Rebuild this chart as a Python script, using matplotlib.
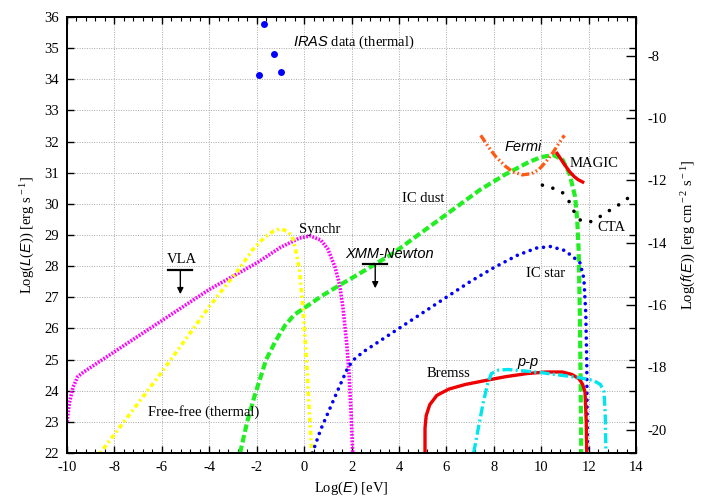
import matplotlib
matplotlib.use("Agg")
import matplotlib.pyplot as plt
from matplotlib.ticker import MultipleLocator

plt.rcParams['font.family'] = 'Liberation Serif'
plt.rcParams['font.size'] = 10.5
plt.rcParams['axes.unicode_minus'] = False
plt.rcParams['mathtext.fontset'] = 'custom'
plt.rcParams['mathtext.rm'] = 'Liberation Serif'
plt.rcParams['mathtext.it'] = 'Liberation Sans:italic'

# --- data (log E [eV], log L [erg/s]) ---
synchr_x = [-10.0, -9.9, -9.75, -9.55, -9.3, -8.0, -6.0, -4.0, -2.0, -1.0, -0.2, 0.25,
            0.7, 1.0, 1.3, 1.5, 1.65, 1.8, 1.9, 2.0, 2.05]
synchr_y = [23.0, 23.6, 24.1, 24.45, 24.6, 25.25, 26.25, 27.25, 28.1, 28.6, 28.9, 28.97,
            28.84, 28.55, 27.98, 27.4, 26.6, 25.5, 24.5, 23.0, 22.0]

freefree_x = [-8.6, -6.0, -4.0, -2.7, -2.2, -1.7, -1.3, -1.0, -0.7, -0.5, -0.35, -0.2,
              -0.05, 0.1, 0.2, 0.32]
freefree_y = [22.0, 24.6, 26.7, 27.95, 28.5, 28.9, 29.12, 29.2, 29.12, 28.95, 28.5, 27.9,
              26.7, 25.0, 23.6, 22.0]

icdust_x = [-2.7, -2.4, -2.1, -1.6, -1.2, -0.8, -0.4, 0.0, 0.7, 1.5, 2.6, 3.75, 4.9, 6.0,
            7.4, 8.5, 9.5, 10.0, 10.5, 10.9, 11.2, 11.43, 11.52, 11.58, 11.63, 11.66, 11.69]
icdust_y = [22.0, 23.0, 23.8, 25.0, 25.6, 26.1, 26.45, 26.65, 27.02, 27.39, 27.88, 28.41,
            29.05, 29.66, 30.44, 30.95, 31.35, 31.5, 31.57, 31.42, 30.95, 30.23, 29.48,
            28.5, 26.5, 24.5, 22.0]

icstar_x = [0.35, 0.7, 1.1, 1.5, 1.85, 2.1, 2.5, 3.0, 4.0, 5.0, 6.0, 7.0, 8.0, 9.0, 9.8,
            10.4, 11.0, 11.5, 11.64, 11.8, 11.88, 11.92, 11.95]
icstar_y = [22.0, 22.75, 23.45, 24.15, 24.75, 25.0, 25.25, 25.5, 26.0, 26.5, 27.0, 27.5,
            27.95, 28.35, 28.58, 28.63, 28.5, 28.2, 28.1, 27.6, 26.5, 25.0, 22.0]

bremss_x = [5.1, 5.1, 5.15, 5.3, 5.6, 6.1, 6.8, 7.6, 8.5, 9.4, 10.2, 10.9, 11.3, 11.6,
            11.75, 11.85, 11.9, 11.92]
bremss_y = [22.0, 22.8, 23.2, 23.55, 23.85, 24.05, 24.2, 24.32, 24.45, 24.55, 24.6, 24.6,
            24.52, 24.38, 24.2, 23.95, 23.0, 22.0]

pp_x = [7.15, 7.35, 7.55, 7.75, 7.9, 8.2, 8.6, 9.2, 10.0, 10.8, 11.6, 12.2, 12.5, 12.65,
        12.7, 12.73]
pp_y = [22.0, 22.8, 23.6, 24.25, 24.55, 24.66, 24.68, 24.64, 24.58, 24.5, 24.42, 24.33,
        24.2, 23.95, 23.3, 22.0]

fermi_x = [7.45, 7.8, 8.1, 8.5, 8.8, 9.2, 9.6, 9.9, 10.2, 10.5, 10.75, 10.98]
fermi_y = [32.2, 31.8, 31.5, 31.2, 31.03, 30.93, 30.97, 31.1, 31.35, 31.65, 31.95, 32.2]

magic_x = [10.67, 10.95, 11.2, 11.4, 11.55, 11.75]
magic_y = [31.62, 31.3, 31.03, 30.87, 30.78, 30.7]

cta_x = [10.05, 10.5, 10.9, 11.2, 11.45, 11.65, 11.85, 12.1, 12.4, 12.8, 13.2, 13.6, 14.0]
cta_y = [30.6, 30.5, 30.36, 30.05, 29.65, 29.48, 29.42, 29.43, 29.55, 29.75, 29.93, 30.15, 30.38]

iras_x = [-1.68, -1.28, -0.97, -1.89]
iras_y = [35.77, 34.82, 34.23, 34.14]

# upper limits: VLA, XMM-Newton
ul_x = [-5.22, 3.0]
ul_y = [27.88, 28.07]

fig = plt.figure(figsize=(7.12, 4.98), dpi=100)
ax = fig.add_axes([0.0941, 0.0904, 0.7992, 0.8755])

ax.plot(synchr_x, synchr_y, color='#ff00ff', lw=2.6, ls=(0, (0.5, 0.4)))
ax.plot(freefree_x, freefree_y, color='#ffff00', lw=2.6, ls=(0, (0.6, 0.9, 1.2, 0.9)))
ax.plot(icdust_x, icdust_y, color='#22ee22', lw=3.0, ls=(0, (1.8, 0.8)))
ax.plot(icstar_x, icstar_y, color='#0000ff', lw=2.6, ls=(0, (0.01, 1.9)),
        dash_capstyle='round')
ax.plot(bremss_x, bremss_y, color='#ee0000', lw=2.4, solid_capstyle='butt')
ax.plot(pp_x, pp_y, color='#00e5ee', lw=2.4, ls=(0, (3.0, 1.0, 0.6, 1.0)))
ax.plot(fermi_x, fermi_y, color='#ff5a14', lw=2.4, ls=(0, (2.4, 0.8, 0.5, 0.8, 0.5, 0.8)))
ax.plot(magic_x, magic_y, color='#ee0000', lw=2.4)
ax.plot(cta_x, cta_y, color='black', lw=2.6, ls=(0, (0.01, 3.0)), dash_capstyle='round')
ax.plot(iras_x, iras_y, 'o', color='#0000ff', ms=5, mec='none')

# upper limit bars with arrows
for xu, yu in zip(ul_x, ul_y):
    ax.plot([xu - 0.5, xu + 0.5], [yu, yu], color='black', lw=1.6)
    ax.annotate('', xy=(xu, yu - 0.78), xytext=(xu, yu),
                arrowprops=dict(arrowstyle='-|>', color='black', lw=1.0,
                                mutation_scale=9, shrinkA=0, shrinkB=0))

# labels
ax.text(-0.47, 35.19, r'$\it{IRAS}$ data (thermal)', ha='left', va='center')
ax.text(0.67, 29.16, 'Synchr', ha='center', va='center')
ax.text(5.03, 30.18, 'IC dust', ha='center', va='center')
ax.text(9.24, 31.81, 'Fermi', ha='center', va='center', family='Liberation Sans', style='italic')
ax.text(11.2, 31.30, 'MAGIC', ha='left', va='center')
ax.text(12.37, 29.25, 'CTA', ha='left', va='center')
ax.text(10.18, 27.77, 'IC star', ha='center', va='center')
ax.text(6.08, 24.56, 'Bremss', ha='center', va='center')
ax.text(9.46, 24.93, 'p-p', ha='center', va='center', family='Liberation Sans', style='italic')
ax.text(-4.25, 23.33, 'Free-free (thermal)', ha='center', va='center')
ax.text(-5.16, 28.22, 'VLA', ha='center', va='center')
ax.text(3.62, 28.38, 'XMM-Newton', ha='center', va='center',
        family='Liberation Sans', style='italic')

ax.set_xlim(-10, 14)
ax.set_ylim(22, 36)
ax.xaxis.set_major_locator(MultipleLocator(2))
ax.xaxis.set_minor_locator(MultipleLocator(0.4))
ax.yaxis.set_major_locator(MultipleLocator(1))
ax.grid(True, which='major', color='#aaaaaa', ls=(0, (1, 1.5)), lw=0.7)
ax.set_axisbelow(True)
for s in ax.spines.values():
    s.set_linewidth(1.4)

ax.set_xlabel(r'Log($\it{E}$) [eV]', labelpad=4)
ax.set_ylabel(r'Log($\it{L}$($\it{E}$)) [erg s$^{\rm -1}$]', labelpad=6)

ax2 = ax.twinx()
ax2.set_ylim(22 - 42.75, 36 - 42.75)
ax2.yaxis.set_major_locator(MultipleLocator(2))
ax2.tick_params(axis='y', direction='in', length=7, width=1.0, pad=8)
ax2.set_ylabel(r'Log($\it{f}$($\it{E}$)) [erg cm$^{\rm -2}$ s$^{\rm -1}$]', rotation=90,
               labelpad=8)
for s in ax2.spines.values():
    s.set_linewidth(1.4)

ax.tick_params(axis='both', which='major', direction='in', length=5, width=1.0,
               top=True, right=True, labelright=False, pad=6)
ax.tick_params(axis='x', which='minor', direction='in', length=3, width=0.8,
               top=True, bottom=True)

fig.savefig('out.png', dpi=100)
